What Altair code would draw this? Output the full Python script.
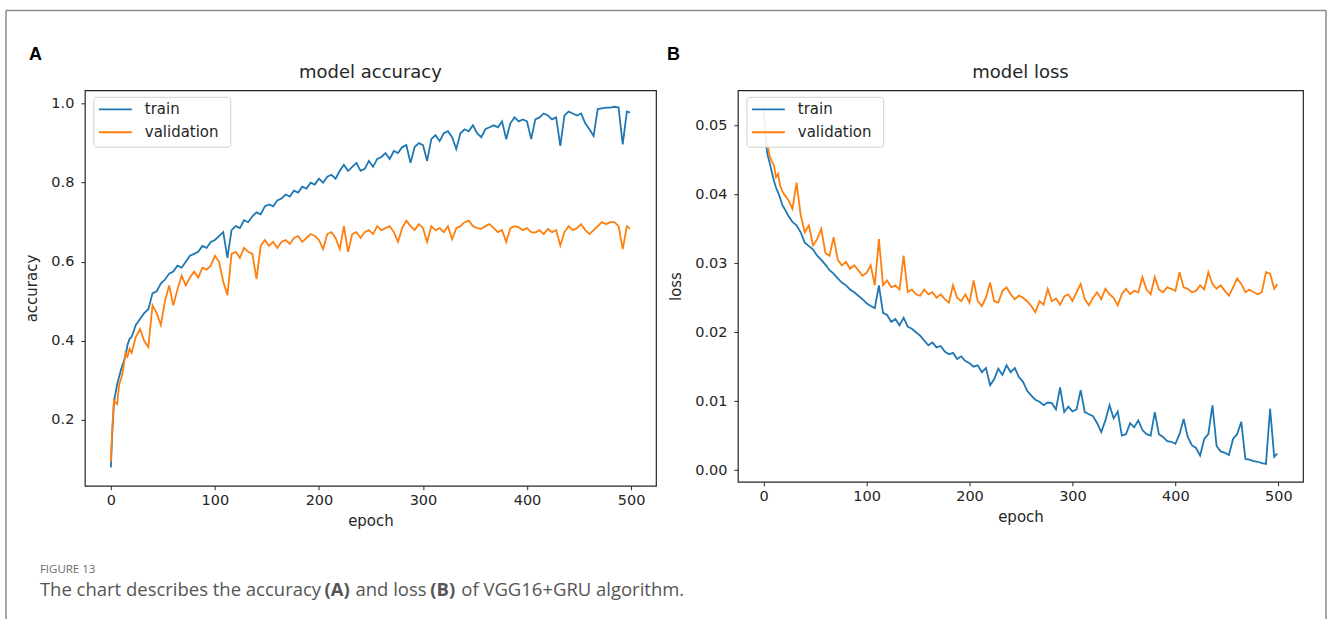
import altair as alt
import pandas as pd

EPOCHS = [0, 1, 2, 3, 4, 6, 8, 10, 12, 14, 16, 18, 20] + list(range(24, 500, 4)) + [499]

ACC_TRAIN = [
    0.08, 0.15, 0.20, 0.245, 0.26, 0.29, 0.31, 0.33, 0.345, 0.36, 0.39, 0.405, 0.41,
    0.44, 0.455, 0.47, 0.48, 0.52, 0.525, 0.545, 0.555, 0.57, 0.575, 0.59, 0.585,
    0.60, 0.615, 0.62, 0.625, 0.64, 0.635, 0.65, 0.655, 0.665, 0.675, 0.61, 0.68,
    0.69, 0.685, 0.705, 0.70, 0.715, 0.725, 0.72, 0.74, 0.745, 0.74, 0.755, 0.76,
    0.77, 0.765, 0.78, 0.775, 0.79, 0.785, 0.80, 0.795, 0.81, 0.80, 0.815, 0.82,
    0.81, 0.83, 0.845, 0.83, 0.84, 0.85, 0.83, 0.835, 0.855, 0.84, 0.86, 0.865,
    0.875, 0.86, 0.88, 0.875, 0.89, 0.895, 0.85, 0.89, 0.90, 0.895, 0.855, 0.91,
    0.92, 0.905, 0.925, 0.93, 0.915, 0.885, 0.925, 0.935, 0.93, 0.945, 0.925, 0.915,
    0.935, 0.94, 0.945, 0.94, 0.955, 0.91, 0.95, 0.965, 0.955, 0.96, 0.955, 0.91,
    0.96, 0.965, 0.975, 0.97, 0.96, 0.965, 0.893, 0.97, 0.98, 0.975, 0.97, 0.975,
    0.95, 0.935, 0.918, 0.986, 0.988, 0.99, 0.99, 0.992, 0.99, 0.897, 0.98, 0.977,
]

ACC_VAL = [
    0.094, 0.16, 0.21, 0.25, 0.245, 0.24, 0.29, 0.305, 0.33, 0.37, 0.36, 0.38, 0.37,
    0.41, 0.43, 0.40, 0.384, 0.49, 0.47, 0.44, 0.50, 0.54, 0.49, 0.53, 0.565,
    0.54, 0.56, 0.575, 0.56, 0.585, 0.58, 0.59, 0.615, 0.60, 0.55, 0.515, 0.62,
    0.625, 0.61, 0.635, 0.625, 0.62, 0.556, 0.64, 0.655, 0.64, 0.65, 0.635, 0.65,
    0.655, 0.645, 0.66, 0.665, 0.65, 0.66, 0.67, 0.665, 0.655, 0.632, 0.67, 0.675,
    0.66, 0.632, 0.69, 0.625, 0.67, 0.675, 0.66, 0.675, 0.68, 0.67, 0.69, 0.68,
    0.685, 0.69, 0.675, 0.65, 0.685, 0.704, 0.69, 0.68, 0.695, 0.685, 0.65, 0.69,
    0.68, 0.685, 0.675, 0.69, 0.657, 0.685, 0.69, 0.70, 0.704, 0.69, 0.685, 0.683,
    0.69, 0.695, 0.685, 0.675, 0.68, 0.65, 0.685, 0.69, 0.687, 0.68, 0.685, 0.675,
    0.674, 0.68, 0.67, 0.683, 0.675, 0.68, 0.641, 0.675, 0.69, 0.68, 0.685, 0.695,
    0.68, 0.67, 0.68, 0.69, 0.70, 0.695, 0.70, 0.70, 0.69, 0.632, 0.69, 0.683,
]

LOSS_TRAIN = [
    0.0526, 0.050, 0.048, 0.0465, 0.0456, 0.0445, 0.0432, 0.042, 0.041, 0.0403, 0.0395, 0.0385, 0.038,
    0.0369, 0.036, 0.0355, 0.0345, 0.033, 0.0325, 0.032, 0.0311, 0.0305, 0.0298, 0.029, 0.0285,
    0.0278, 0.0272, 0.0268, 0.0262, 0.0258, 0.0253, 0.0248, 0.0242, 0.0238, 0.0235, 0.0268, 0.0228,
    0.0225, 0.0215, 0.0219, 0.021, 0.0221, 0.0208, 0.0205, 0.020, 0.0195, 0.0188, 0.0181, 0.0185,
    0.0178, 0.018, 0.0172, 0.0168, 0.017, 0.0161, 0.0165, 0.0158, 0.0155, 0.015, 0.0152, 0.0142,
    0.0148, 0.0123, 0.0132, 0.0147, 0.0138, 0.0152, 0.0142, 0.0148, 0.0135, 0.0128, 0.0115, 0.0108,
    0.0102, 0.0099, 0.0094, 0.0098, 0.0097, 0.0088, 0.012, 0.0084, 0.0092, 0.0085, 0.0088, 0.0116,
    0.0084, 0.0081, 0.0078, 0.0068, 0.0055, 0.0072, 0.0094, 0.0075, 0.0085, 0.005, 0.0052, 0.0068,
    0.0062, 0.0072, 0.0058, 0.0052, 0.005, 0.0084, 0.0052, 0.0048, 0.0042, 0.0041, 0.0038, 0.0052,
    0.0074, 0.0048, 0.0036, 0.0032, 0.0021, 0.0045, 0.0052, 0.0094, 0.0035, 0.0027, 0.0025, 0.0022,
    0.0045, 0.0052, 0.007, 0.0016, 0.0015, 0.0013, 0.0012, 0.001, 0.0009, 0.0089, 0.0019, 0.0024,
]

LOSS_VAL = [
    0.0526, 0.0505, 0.049, 0.0478, 0.047, 0.0455, 0.0448, 0.0442, 0.0425, 0.043, 0.0413, 0.0405, 0.040,
    0.0392, 0.0379, 0.0417, 0.037, 0.0345, 0.0355, 0.0326, 0.0335, 0.035, 0.0315, 0.0311, 0.0338,
    0.0305, 0.0297, 0.0302, 0.0292, 0.0297, 0.029, 0.0282, 0.0286, 0.0297, 0.0268, 0.0335, 0.0268,
    0.0275, 0.0265, 0.0268, 0.0262, 0.0311, 0.0258, 0.0262, 0.0255, 0.0253, 0.0262, 0.0255, 0.0258,
    0.025, 0.0255, 0.0248, 0.0243, 0.0268, 0.025, 0.0245, 0.0255, 0.0243, 0.0275, 0.0245, 0.0238,
    0.025, 0.0272, 0.0245, 0.0243, 0.026, 0.0265, 0.0255, 0.0248, 0.0253, 0.025, 0.0245, 0.0238,
    0.0229, 0.0245, 0.024, 0.0263, 0.0245, 0.0249, 0.024, 0.0252, 0.0255, 0.0245, 0.0258, 0.027,
    0.0248, 0.0239, 0.025, 0.0258, 0.0248, 0.0263, 0.0255, 0.025, 0.0239, 0.0255, 0.0263, 0.0255,
    0.026, 0.0258, 0.028, 0.0262, 0.0255, 0.028, 0.0262, 0.0258, 0.0265, 0.0263, 0.026, 0.0287,
    0.0265, 0.0263, 0.0258, 0.026, 0.0268, 0.0262, 0.0287, 0.027, 0.0263, 0.0268, 0.026, 0.0253,
    0.0265, 0.0278, 0.027, 0.0258, 0.0262, 0.0258, 0.0255, 0.0258, 0.0287, 0.0285, 0.0263, 0.027,
]

SERIES = ["train", "validation"]
COLORS = ["#1f77b4", "#ff7f0e"]
X_TICKS = [0, 100, 200, 300, 400, 500]
ACC_TICKS = [0.2, 0.4, 0.6, 0.8, 1.0]
LOSS_TICKS = [0.0, 0.01, 0.02, 0.03, 0.04, 0.05]

CAPTION_LABEL = "FIGURE 13"
CAPTION_PARTS = [
    ("The chart describes the accuracy", "normal", -45),
    ("(A)", "bold", 240),
    ("and loss", "normal", 271),
    ("(B)", "bold", 346),
    ("of VGG16+GRU algorithm.", "normal", 377),
]

acc_df = pd.DataFrame({"epoch": EPOCHS, "train": ACC_TRAIN, "validation": ACC_VAL})
loss_df = pd.DataFrame({"epoch": EPOCHS, "train": LOSS_TRAIN, "validation": LOSS_VAL})
one = pd.DataFrame({"k": [0]})

FONT = "DejaVu Sans"
INK = "#262626"


def legend_marks():
    out = [
        alt.Chart(one).mark_rect(fill="white", stroke="#cccccc", strokeWidth=1,
                                 cornerRadius=3, opacity=0.9).encode(
            x=alt.value(9), x2=alt.value(146), y=alt.value(7), y2=alt.value(57))
    ]
    for i, (s, c) in enumerate(zip(SERIES, COLORS)):
        yy = 19 + 23 * i
        out.append(alt.Chart(one).mark_rule(color=c, strokeWidth=1.8).encode(
            x=alt.value(14), x2=alt.value(47), y=alt.value(yy)))
        out.append(alt.Chart(one).mark_text(font=FONT, fontSize=15, color=INK,
                                            align="left", baseline="middle").encode(
            x=alt.value(60), y=alt.value(yy), text=alt.value(s)))
    return out


def panel(df, title, ytitle, ydomain, yticks, yfmt, letter, w, h, extra=None):
    long = df.melt("epoch", var_name="series", value_name="value")
    color = alt.Color("series:N", scale=alt.Scale(domain=SERIES, range=COLORS), legend=None)
    x = alt.X(
        "epoch:Q",
        scale=alt.Scale(domain=[-25, 524], nice=False, zero=False),
        axis=alt.Axis(values=X_TICKS, title="epoch", format="d"),
    )
    y = alt.Y(
        "value:Q",
        scale=alt.Scale(domain=ydomain, nice=False, zero=False),
        axis=alt.Axis(values=yticks, title=ytitle, format=yfmt),
    )
    layers = []
    for s in SERIES:
        layers.append(
            alt.Chart(long).transform_filter(alt.datum.series == s)
            .mark_line(strokeWidth=1.8, clip=True)
            .encode(x=x, y=y, color=color)
        )
    layers.extend(legend_marks())
    layers.append(alt.Chart(one).mark_text(
        font="Liberation Sans", fontWeight="bold", fontSize=18, align="left",
        baseline="middle", color="#000"
    ).encode(x=alt.value(letter[1]), y=alt.value(-35), text=alt.value(letter[0])))
    layers.append(alt.Chart(one).mark_text(
        font=FONT, fontSize=18, align="center", baseline="middle", color=INK
    ).encode(x=alt.value(w / 2), y=alt.value(-17), text=alt.value(title)))
    if extra:
        layers.extend(extra)
    return alt.layer(*layers).properties(width=w, height=h)


frame_color = "#8a8a8a"
deco = [
    alt.Chart(one).mark_rule(color=frame_color, strokeWidth=1.5).encode(
        x=alt.value(-79), y=alt.value(-80), y2=alt.value(531)),
    alt.Chart(one).mark_rule(color=frame_color, strokeWidth=1.5).encode(
        x=alt.value(-79), x2=alt.value(1243), y=alt.value(-80)),
    alt.Chart(one).mark_rule(color=frame_color, strokeWidth=1.5).encode(
        x=alt.value(1243), y=alt.value(-80), y2=alt.value(531)),
    alt.Chart(one).mark_text(font="Open Sans", fontSize=11.5, color="#6b6b6b",
                             align="left", baseline="middle").encode(
        x=alt.value(-45), y=alt.value(480), text=alt.value(CAPTION_LABEL)),
]
for txt, wt, xp in CAPTION_PARTS:
    deco.append(
        alt.Chart(one).mark_text(font="Open Sans", fontSize=18.5, fontWeight=wt,
                                 color="#555555", align="left", baseline="middle")
        .encode(x=alt.value(xp), y=alt.value(500), text=alt.value(txt))
    )

pa = panel(acc_df, "model accuracy", "accuracy", [0.0335, 1.0335], ACC_TICKS, ".1f",
           ("A", -56), 572, 396, extra=deco)
pb = panel(loss_df, "model loss", "loss", [-0.0017, 0.0551], LOSS_TICKS, ".2f",
           ("B", -71), 566, 392)

chart = (
    alt.hconcat(pa, pb, spacing=82, bounds="flush")
    .resolve_scale(x="independent", y="independent", color="independent")
    .properties(padding={"left": 4, "top": 8, "right": 0, "bottom": 0}, background="white")
    .configure_view(stroke=INK, strokeWidth=1.2)
    .configure_axis(
        grid=False, domain=False, tickColor=INK, tickSize=4, tickWidth=1,
        labelFont=FONT, labelFontSize=14.5, labelColor=INK,
        titleFont=FONT, titleFontSize=15, titleFontWeight="normal", titleColor=INK,
    )
    .configure_axisX(labelPadding=4, titlePadding=6)
    .configure_axisY(labelPadding=7, titlePadding=11)
)

chart.save("out.html", embed_options={"renderer": "svg", "actions": False})
